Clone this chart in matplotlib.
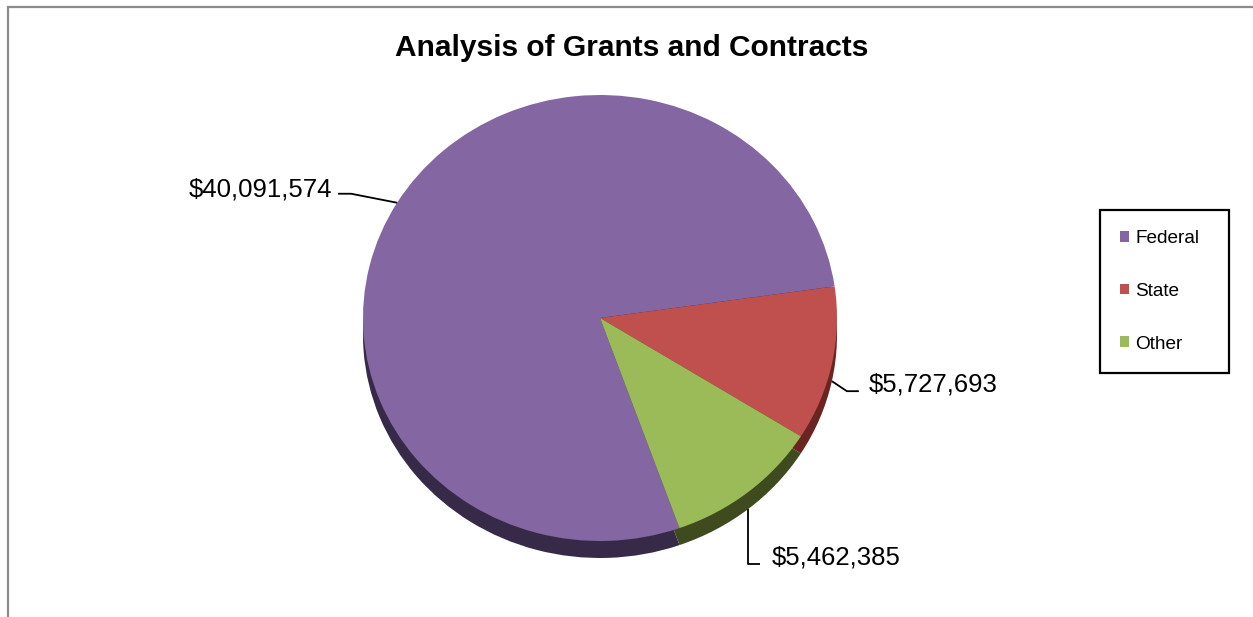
import matplotlib
matplotlib.use('Agg')
import matplotlib.pyplot as plt
from matplotlib.patches import Rectangle
import numpy as np

plt.rcParams['font.family'] = ['Liberation Sans', 'DejaVu Sans']

labels = ['Federal', 'State', 'Other']
amounts = [40091574, 5727693, 5462385]
value_text = ['$40,091,574', '$5,727,693', '$5,462,385']
colors = ['#8366A2', '#C0504D', '#9BBB59']
side_colors = ['#362a48', '#6a2422', '#3f4b1f']

W, H = 1253, 617
fig = plt.figure(figsize=(W / 100, H / 100), dpi=100)

# pie layout in pixels (from top-left), tilted a bit so it's an ellipse
cx, cy = 600, 318
rx, ry = 237, 223
depth = 17
start = -70.4


def to_data(px, py):
    return (px - cx) / rx, (cy - py) / ry


ax = fig.add_axes([0, 0, 1, 1])
# side of the "3d" pie: same pie, darker, pushed down
ax.pie(amounts, colors=side_colors, startangle=start, counterclock=False,
       center=(0, -depth / ry), wedgeprops=dict(linewidth=0))
wedges, _ = ax.pie(amounts, colors=colors, startangle=start, counterclock=False,
                   wedgeprops=dict(linewidth=0))
ax.set_aspect('auto')
ax.set_xlim(-cx / rx, (W - cx) / rx)
ax.set_ylim(-(H - cy) / ry, cy / ry)
ax.axis('off')

# leader lines: offsets (pixels) for elbow, end and text anchor
leaders = [
    dict(elbow=(-46, -9), end=(-59, -9), text=(-65, -6), ha='right'),
    dict(elbow=(15, 10), end=(27, 10), text=(37, 10), ha='left'),
    dict(elbow=(0, 55), end=(12, 55), text=(23, 56), ha='left'),
]
for w, txt, ld in zip(wedges, value_text, leaders):
    mid = np.deg2rad((w.theta1 + w.theta2) / 2)
    apx = cx + rx * np.cos(mid)
    apy = cy - ry * np.sin(mid)
    if np.sin(mid) < 0:
        apy += depth
    pts = [(apx, apy),
           (apx + ld['elbow'][0], apy + ld['elbow'][1]),
           (apx + ld['end'][0], apy + ld['end'][1])]
    xs, ys = zip(*[to_data(*p) for p in pts])
    ax.plot(xs, ys, color='black', lw=1.3, solid_capstyle='butt')
    tx, ty = to_data(apx + ld['text'][0], apy + ld['text'][1])
    ax.text(tx, ty, txt, ha=ld['ha'], va='baseline', fontsize=18.5, color='black')

fig.text(631.5 / W, 1 - 56 / H, 'Analysis of Grants and Contracts',
         ha='center', va='baseline', fontsize=21.5, fontweight='bold')

leg = fig.legend(wedges, labels, loc='upper left',
                 bbox_to_anchor=(1100 / W, 1 - 370 / H, 129 / W, 160 / H),
                 mode='expand', borderaxespad=0, frameon=True, fancybox=False,
                 edgecolor='black', framealpha=1, fontsize=13.7,
                 handlelength=0.48, handleheight=0.48, handletextpad=0.32,
                 labelspacing=1.88, borderpad=1.05)
leg.get_frame().set_linewidth(1.6)

# chart area border (only left and top visible in the crop)
fig.add_artist(Rectangle((7.5 / W, -0.1), 1.2, 1.1 - 6.5 / H,
                         transform=fig.transFigure, fill=False,
                         edgecolor='#8c8c8c', lw=1.6))

plt.savefig('out.png', dpi=100)
